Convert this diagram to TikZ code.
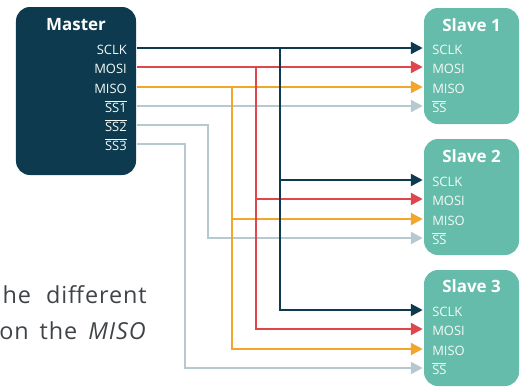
\documentclass[tikz,border=0pt]{standalone}
\usepackage{fontspec}
\setmainfont{Open Sans}
\usetikzlibrary{arrows.meta,positioning,calc}

\definecolor{navy}{HTML}{0D3A4E}
\definecolor{busred}{HTML}{E0474C}
\definecolor{busorange}{HTML}{F2A62A}
\definecolor{busgrey}{HTML}{B7C9D0}
\definecolor{teal}{HTML}{66BCAA}
\definecolor{bodygrey}{HTML}{3F4448}

\newcommand{\nbar}[1]{$\overline{\mbox{#1}}$}

\begin{document}
\begin{tikzpicture}[x=1bp, y=-1bp, >={Triangle[length=12bp,width=12bp]}, line width=2.5bp]
	\tikzstyle{masterbox}=[fill=navy,draw=none,rounded corners=14bp,minimum width=120bp,minimum height=168bp]
	\tikzstyle{slavebox}=[fill=teal,draw=none,rounded corners=14bp,minimum width=95bp,minimum height=116bp]
	\tikzstyle{title}=[text=white,font=\fontsize{17}{20}\selectfont\bfseries,inner sep=0pt]
	\tikzstyle{pin}=[text=white!92!teal,font=\fontsize{13}{15}\selectfont,inner sep=0pt,text height=12bp,text depth=0bp]
	\tikzstyle{body}=[text=bodygrey,font=\fontsize{23.5}{27}\selectfont\addfontfeature{LetterSpace=4},inner sep=0pt,anchor=base east]
	\tikzstyle{sclkline}=[draw=navy]
	\tikzstyle{mosiline}=[draw=busred]
	\tikzstyle{misoline}=[draw=busorange]
	\tikzstyle{ssline}=[draw=busgrey]
	\useasboundingbox (0,0) rectangle (525,387);

	% master
	\node[masterbox] (master) at (76,91) {};
	\node[title]     (mtitle) at (76,25) {Master};
	\node[pin,anchor=east] (m-sclk) at (128,48)  {SCLK};
	\node[pin,anchor=east] (m-mosi) at (128,67)  {MOSI};
	\node[pin,anchor=east] (m-miso) at (128,87)  {MISO};
	\node[pin,anchor=east] (m-ss1)  at (128,106) {\nbar{SS1}};
	\node[pin,anchor=east] (m-ss2)  at (128,125) {\nbar{SS2}};
	\node[pin,anchor=east] (m-ss3)  at (128,144) {\nbar{SS3}};

	% slaves
	\node[slavebox] (s1) at (471.5,66)  {};
	\node[slavebox] (s2) at (471.5,197) {};
	\node[slavebox] (s3) at (471.5,328) {};
	\node[title] (s1title) at (471.5,25)  {Slave 1};
	\node[title] (s2title) at (471.5,156) {Slave 2};
	\node[title] (s3title) at (471.5,286) {Slave 3};
	\node[pin,anchor=west] (s1-sclk) at (431,48)  {SCLK};
	\node[pin,anchor=west] (s1-mosi) at (431,67)  {MOSI};
	\node[pin,anchor=west] (s1-miso) at (431,87)  {MISO};
	\node[pin,anchor=west] (s1-ss)   at (431,106) {\nbar{SS}};
	\node[pin,anchor=west] (s2-sclk) at (431,180) {SCLK};
	\node[pin,anchor=west] (s2-mosi) at (431,199) {MOSI};
	\node[pin,anchor=west] (s2-miso) at (431,219) {MISO};
	\node[pin,anchor=west] (s2-ss)   at (431,238) {\nbar{SS}};
	\node[pin,anchor=west] (s3-sclk) at (431,310) {SCLK};
	\node[pin,anchor=west] (s3-mosi) at (431,329) {MOSI};
	\node[pin,anchor=west] (s3-miso) at (431,349) {MISO};
	\node[pin,anchor=west] (s3-ss)   at (431,368) {\nbar{SS}};

	% bends of the bus
	\coordinate (j-sclk) at (280,48);
	\coordinate (j-mosi) at (256,67);
	\coordinate (j-miso) at (232,87);
	\coordinate (b-ss2)  at (208,125);
	\coordinate (b-ss3)  at (185,144);

	% slave select lines
	\draw[ssline,->] (m-ss1 -| master.east) -- (s1-ss -| s1.west);
	\draw[ssline,->] (m-ss2 -| master.east) -- (b-ss2) |- (s2-ss -| s2.west);
	\draw[ssline,->] (m-ss3 -| master.east) -- (b-ss3) |- (s3-ss -| s3.west);
	% miso
	\draw[misoline,->] (m-miso -| master.east) -- (s1-miso -| s1.west);
	\draw[misoline,->] (j-miso) |- (s2-miso -| s2.west);
	\draw[misoline,->] (j-miso) |- (s3-miso -| s3.west);
	% mosi
	\draw[mosiline,->] (m-mosi -| master.east) -- (s1-mosi -| s1.west);
	\draw[mosiline,->] (j-mosi) |- (s2-mosi -| s2.west);
	\draw[mosiline,->] (j-mosi) |- (s3-mosi -| s3.west);
	% sclk
	\draw[sclkline,->] (m-sclk -| master.east) -- (s1-sclk -| s1.west);
	\draw[sclkline,->] (j-sclk) |- (s2-sclk -| s2.west);
	\draw[sclkline,->] (j-sclk) |- (s3-sclk -| s3.west);

	% clipped text of the page
	\node[body] (line1) at (148,303) {he\hspace{8bp} different};
	\node[body] (line2) at (148,339) {on\hspace{4bp} the\hspace{4bp} \textit{MISO}};
\end{tikzpicture}
\end{document}
